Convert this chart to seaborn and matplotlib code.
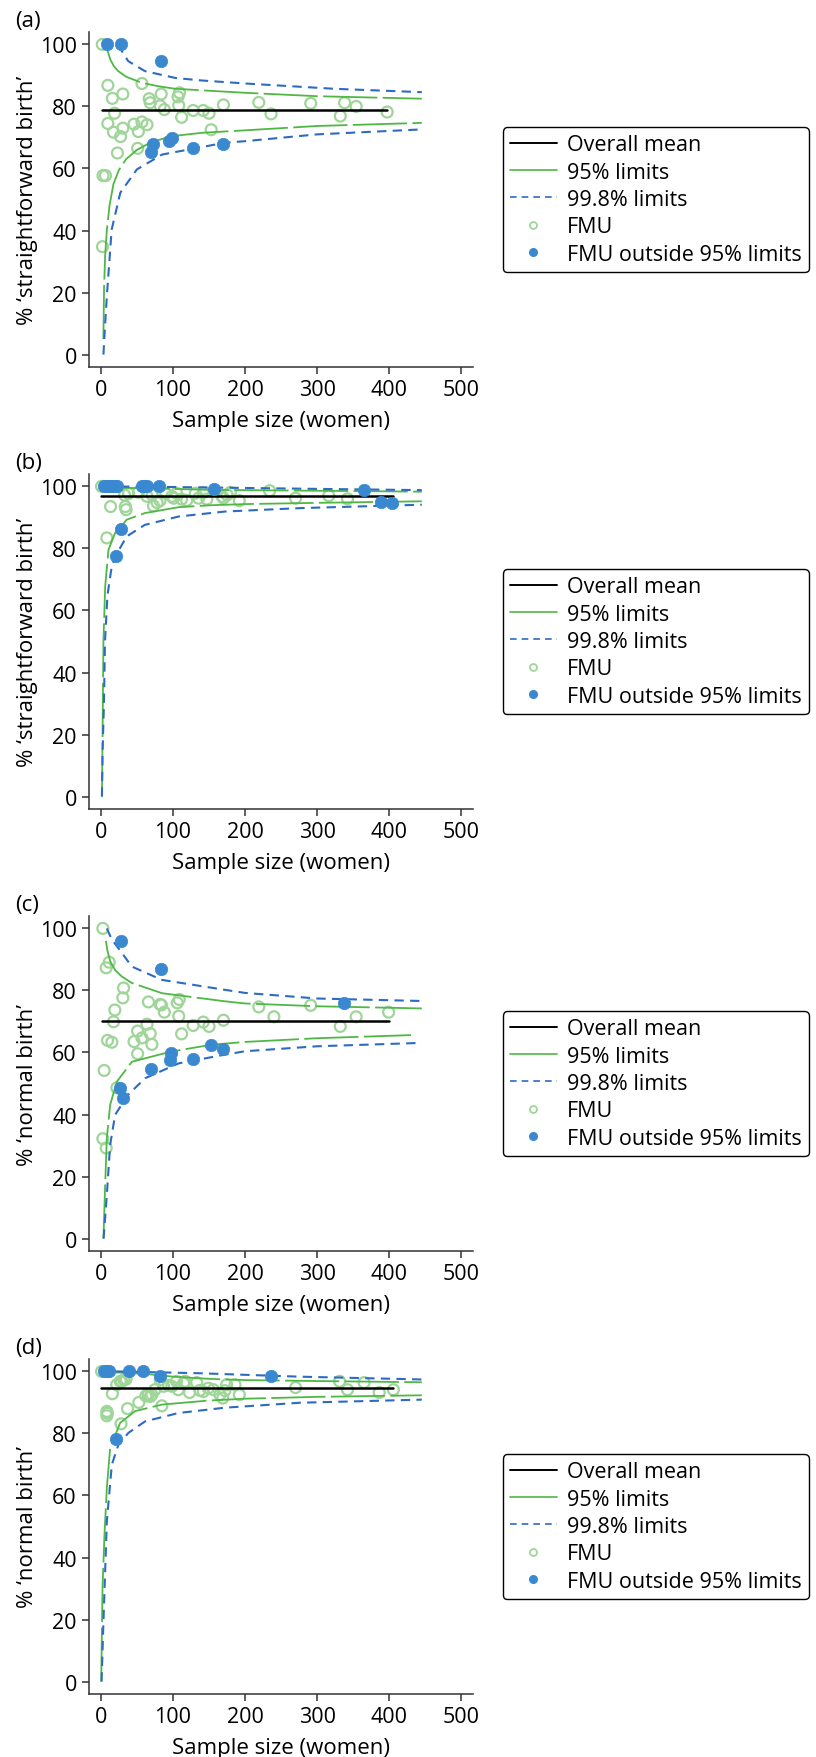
import matplotlib
matplotlib.use("Agg")
import matplotlib.pyplot as plt
from matplotlib.lines import Line2D
import seaborn as sns
import numpy as np

# ---------------- data ----------------
PANEL_LABELS = ["(a)", "(b)", "(c)", "(d)"]
Y_LABELS = ["% \u2018straightforward birth\u2019", "% \u2018straightforward birth\u2019",
            "% \u2018normal birth\u2019", "% \u2018normal birth\u2019"]
X_LABEL = "Sample size (women)"
X_TICKS = [0, 100, 200, 300, 400, 500]
Y_TICKS = [0, 20, 40, 60, 80, 100]
LEGEND_LABELS = ["Overall mean", "95% limits", "99.8% limits", "FMU", "FMU outside 95% limits"]

MEANS = [78.7, 97.0, 70.0, 94.6]
MEAN_X_START = [2, 0, 2, 0]
MEAN_X_END = [397, 405, 400, 405]

# panel (a)
A_OPEN_X = [2, 9.7, 16, 30.5, 19, 9.7, 17.6, 30.5, 27.3, 23, 57, 67, 68.5, 83.7, 82.3, 88, 107, 109, 108, 112,
            46, 57, 64, 52, 51, 3, 6.5, 2.3, 128, 142, 150, 153, 170, 219, 236, 291, 332, 338, 354, 397]
A_OPEN_Y = [100, 86.8, 82.6, 84, 77.8, 74.5, 71.7, 73, 70.3, 65, 87.4, 82.5, 81.2, 84, 80.2, 79, 83.1, 84.4, 80.3, 76.5,
            74.3, 75, 74.1, 71.9, 66.5, 57.7, 57.7, 34.8, 78.7, 78.7, 77.8, 72.5, 80.5, 81.3, 77.6, 81, 76.9, 81.2, 80, 78.2]
A_OUT_X = [8, 28, 83, 72, 69, 95, 98, 128, 170]
A_OUT_Y = [100, 100, 94.5, 68, 65.2, 68.8, 69.8, 66.5, 68]
A_U95_N = [8, 10, 13, 18, 24, 35, 57, 80, 103, 140, 200, 300, 445]
A_U95 = [100, 97.5, 95.2, 93.0, 91.4, 89.6, 87.6, 86.5, 85.7, 85.2, 84.4, 83.3, 82.5]
A_L95_N = [3.5, 4.5, 6, 8.3, 12, 17.5, 25, 35, 50, 70, 98, 140, 200, 300, 445]
A_L95 = [5, 22, 32, 40, 48, 55, 59.5, 63, 66, 68.5, 70.4, 71.5, 72.3, 73.7, 74.7]
A_U99_N = [24, 30, 38, 61, 103, 138, 200, 323, 445]
A_U99 = [100, 97.5, 94.6, 91.4, 89.2, 88.4, 87.4, 85.7, 84.6]
A_L99_N = [3.6, 6, 8.3, 15, 27, 50, 85, 172, 200, 300, 445]
A_L99 = [0, 10, 18.8, 40.3, 52.2, 59.7, 64.5, 68.3, 68.8, 71, 72.6]

# panel (b)
B_OPEN_X = [1, 8.3, 13.5, 34, 35, 33, 38.5, 52, 64, 71, 73, 78, 82, 90, 98.5, 101, 105, 112, 119, 131,
            135.5, 142, 147, 168, 170, 175, 179.5, 192, 234, 270, 316, 342]
B_OPEN_Y = [100, 83.4, 93.5, 93.5, 92.5, 97.2, 97.7, 98.1, 96.8, 97.3, 93.7, 94.8, 95.4, 97.8, 96.8, 96.2, 97.8, 95.9,
            95.5, 97.8, 96.2, 98.0, 95.9, 96.8, 96.2, 97.3, 98.1, 95.4, 98.6, 96.2, 97.0, 96.0]
B_OUT_X = [4, 7, 10.5, 14, 17.5, 20, 23, 57, 60, 64, 81, 157, 365, 388, 404, 28.5, 21]
B_OUT_Y = [100, 100, 100, 100, 100, 100, 100, 100, 100, 100, 100, 99.3, 98.7, 95, 94.5, 86.3, 77.7]
B_U95_N = [20, 60, 100, 150, 200, 300, 445]
B_U95 = [99.6, 99.4, 99.2, 98.9, 98.8, 98.6, 98.3]
B_L95_N = [1.5, 2.3, 3.0, 3.6, 6, 10.6, 19.8, 36, 61, 108, 150, 200, 300, 445]
B_L95 = [0, 17, 35, 50, 67.7, 79.6, 85, 89.3, 91.4, 93.3, 93.9, 94.3, 94.7, 95.2]
B_U99_N = [5, 100, 200, 300, 445]
B_U99 = [100, 99.8, 99.5, 99.2, 98.8]
B_L99_N = [1.5, 2.5, 4.3, 5.7, 9.1, 14.3, 19.8, 36, 61, 108, 172, 276, 445]
B_L99 = [0, 15, 30, 49.7, 64.7, 73, 77.4, 83.9, 87.6, 90.3, 91.9, 93.0, 94.1]

# panel (c)
C_OPEN_X = [2.8, 7.4, 11.6, 2.8, 7.4, 4.6, 9.3, 15.3, 22.2, 19.4, 17.6, 31.5, 30.5, 66, 82.3, 84, 88, 106, 108.7, 108,
            112, 51, 57, 46, 51, 64, 68.5, 70.8, 128, 142, 150, 170, 219, 240, 291, 332, 354, 399]
C_OPEN_Y = [100, 87.3, 89.1, 32.2, 29.2, 54.2, 63.9, 63.3, 48.6, 73.7, 69.9, 80.8, 77.6, 76.3, 75.5, 75.3, 73, 76, 77.1,
            71.7, 66, 66.9, 64.7, 63.5, 59.6, 69.1, 66.1, 62.6, 68.7, 69.8, 68.4, 70.4, 74.7, 71.5, 75.2, 68.4, 71.5, 73]
C_OUT_X = [27.8, 83, 26.8, 30.5, 69.4, 95.3, 97, 128, 152.6, 170, 337]
C_OUT_Y = [96.1, 87, 48.6, 45.2, 54.7, 57.7, 59.9, 58, 62.4, 61, 76]
C_U95_N = [7, 9, 12.9, 20, 29, 43, 85, 172, 200, 300, 445]
C_U95 = [96, 93, 89.4, 86.5, 84.5, 82.4, 79.1, 76.5, 75.8, 74.9, 74.2]
C_L95_N = [3.6, 6, 8.3, 12.9, 22.2, 43, 97.5, 153.5, 200, 300, 430]
C_L95 = [0, 17.4, 32.4, 43.1, 50.6, 57.0, 60.3, 62.5, 63.4, 64.6, 65.6]
C_U99_N = [8.3, 15, 24.4, 43, 84.6, 172, 200, 300, 445]
C_U99 = [100, 96.5, 93.6, 87.7, 83.4, 80.2, 79.2, 77.4, 76.6]
C_L99_N = [3.8, 8.3, 12.9, 19.8, 37.9, 61.4, 108, 172, 200, 300, 445]
C_L99 = [0, 14.1, 30.2, 39.9, 46.4, 51.7, 56.5, 59.3, 60.4, 62.0, 63.1]

# panel (d)
D_OPEN_X = [1, 16, 22, 27, 29, 32, 35, 8.3, 9, 8.3, 28, 37, 52.7, 62.4, 65.7, 68.5, 70.8, 75, 82.3, 84.6,
            87, 94, 98.5, 105, 107.4, 114.7, 117, 123, 133, 137.4, 142, 149, 156, 165, 169, 172, 174.4, 186, 192, 270,
            331, 342, 365, 386, 405.6]
D_OPEN_Y = [100, 92.8, 95.7, 96.8, 96.8, 97.3, 97.5, 87.1, 86.5, 85.7, 83.1, 88, 90, 92.1, 92.5, 91.9, 92.5, 94.1,
            97.3, 88.9, 95.2, 95.5, 95.2, 96.8, 94.1, 96.2, 96.8, 93.2, 96.4, 93.9, 93.5, 94.6, 94.1, 92.5, 91.4, 93.8,
            95.7, 95.7, 92.5, 94.8, 96.8, 94.1, 96.4, 93.2, 94.1]
D_OUT_X = [4, 8, 12, 38.4, 58, 82.3, 236, 21.3]
D_OUT_Y = [100, 100, 100, 100, 100, 98.6, 98.6, 78.1]
D_U95_N = [8, 30, 60, 80, 100, 150, 200, 300, 445]
D_U95 = [99.8, 99.6, 99.2, 98.8, 98.3, 97.6, 97.2, 96.9, 96.5]
D_L95_N = [0.5, 2.3, 5, 8.3, 12.9, 26.8, 47.6, 84.6, 149, 200, 300, 445]
D_L95 = [0, 30, 47.2, 62.4, 75.3, 83.4, 87.2, 89.3, 90.6, 91.2, 91.8, 92.3]
D_U99_N = [20, 80, 138, 200, 276, 445]
D_U99 = [100, 99.7, 99.4, 98.9, 98.3, 97.4]
D_L99_N = [1, 3.6, 8.3, 15.2, 24.4, 38.3, 61.4, 108, 172, 276, 445]
D_L99 = [0, 19.2, 51.6, 69.9, 76.4, 80.2, 83.9, 86.6, 88.3, 89.9, 90.9]

# ---------------- style ----------------
sns.set_style("ticks")
plt.rcParams['font.family'] = ['Open Sans', 'DejaVu Sans']
plt.rcParams['font.weight'] = 'medium'
plt.rcParams['text.color'] = 'black'
plt.rcParams['axes.labelcolor'] = 'black'
plt.rcParams['xtick.color'] = '#333333'
plt.rcParams['ytick.color'] = '#333333'
plt.rcParams['xtick.labelcolor'] = 'black'
plt.rcParams['ytick.labelcolor'] = 'black'

GREEN = "#4fb845"
LIGHT_GREEN = "#a0d59a"
BLUE_PT = "#3a89d0"
BLUE_LN = "#2d6bc3"
SPINE = "#333333"
FS_TICK = 15.5
FS = 16.0
FS_LEG = 15.5

panels = [
    (A_OPEN_X, A_OPEN_Y, A_OUT_X, A_OUT_Y, A_U95_N, A_U95, A_L95_N, A_L95, A_U99_N, A_U99, A_L99_N, A_L99),
    (B_OPEN_X, B_OPEN_Y, B_OUT_X, B_OUT_Y, B_U95_N, B_U95, B_L95_N, B_L95, B_U99_N, B_U99, B_L99_N, B_L99),
    (C_OPEN_X, C_OPEN_Y, C_OUT_X, C_OUT_Y, C_U95_N, C_U95, C_L95_N, C_L95, C_U99_N, C_U99, C_L99_N, C_L99),
    (D_OPEN_X, D_OPEN_Y, D_OUT_X, D_OUT_Y, D_U95_N, D_U95, D_L95_N, D_L95, D_U99_N, D_U99, D_L99_N, D_L99),
]

W, H = 816, 1758
fig = plt.figure(figsize=(W / 100, H / 100), dpi=100)
ax_left, ax_right = 89.3, 473
tops = [33, 475, 917, 1360]
ax_h = 335

G_DASH = (0, (30, 3))
B_DASH = (0, (4.5, 3))

for i, p in enumerate(panels):
    (ox, oy, fx, fy, u95n, u95, l95n, l95, u99n, u99, l99n, l99) = p
    top = tops[i]
    ax = fig.add_axes([ax_left / W, 1 - (top + ax_h) / H, (ax_right - ax_left) / W, ax_h / H])

    sns.scatterplot(x=ox, y=oy, ax=ax, s=62, marker='o', facecolor='none',
                    edgecolor=LIGHT_GREEN, linewidth=1.6, legend=False, zorder=2)
    for xs, ys in [(u95n, u95), (l95n, l95)]:
        sns.lineplot(x=xs, y=ys, ax=ax, color=GREEN, lw=1.3, linestyle=G_DASH,
                     estimator=None, sort=False, zorder=3)
    for xs, ys in [(u99n, u99), (l99n, l99)]:
        sns.lineplot(x=xs, y=ys, ax=ax, color=BLUE_LN, lw=1.5, linestyle=B_DASH,
                     estimator=None, sort=False, zorder=3)
    sns.lineplot(x=[MEAN_X_START[i], MEAN_X_END[i]], y=[MEANS[i], MEANS[i]], ax=ax,
                 color="black", lw=1.8, estimator=None, sort=False, zorder=4)
    sns.scatterplot(x=fx, y=fy, ax=ax, s=80, marker='o', color=BLUE_PT,
                    edgecolor=BLUE_PT, linewidth=0.5, legend=False, zorder=5)

    ax.set_xlim(-16, 516)
    ax.set_ylim(-4, 104)
    ax.set_xticks(X_TICKS)
    ax.set_yticks(Y_TICKS)
    ax.tick_params(axis='both', direction='out', length=5, width=1.1, color=SPINE,
                   labelsize=FS_TICK, pad=4)
    sns.despine(ax=ax)
    for s in ['left', 'bottom']:
        ax.spines[s].set_linewidth(1.1)
        ax.spines[s].set_color(SPINE)
    ax.set_xlabel(X_LABEL, fontsize=FS, labelpad=6.5)
    ax.set_ylabel(Y_LABELS[i], fontsize=FS, labelpad=1)

    fig.text(15 / W, 1 - (top - 11) / H, PANEL_LABELS[i], fontsize=FS, va='center', ha='left')

    handles = [
        Line2D([0], [0], color='black', lw=1.4),
        Line2D([0], [0], color=GREEN, lw=1.2),
        Line2D([0], [0], color=BLUE_LN, lw=1.2, linestyle=(0, (4, 3))),
        Line2D([0], [0], ls='none', marker='o', ms=5, mfc='none', mec=LIGHT_GREEN, mew=1.3),
        Line2D([0], [0], ls='none', marker='o', ms=5.5, mfc=BLUE_PT, mec=BLUE_PT),
    ]
    leg = ax.legend(handles, LEGEND_LABELS, loc='center left', bbox_to_anchor=(1.078, 0.5),
                    borderaxespad=0, frameon=True, fancybox=True, fontsize=FS_LEG,
                    handlelength=2.2, handletextpad=0.45, labelspacing=0.3, borderpad=0.32)
    fr = leg.get_frame()
    fr.set_edgecolor('black')
    fr.set_linewidth(1.0)
    fr.set_alpha(1)

fig.savefig("out.png", dpi=100)
